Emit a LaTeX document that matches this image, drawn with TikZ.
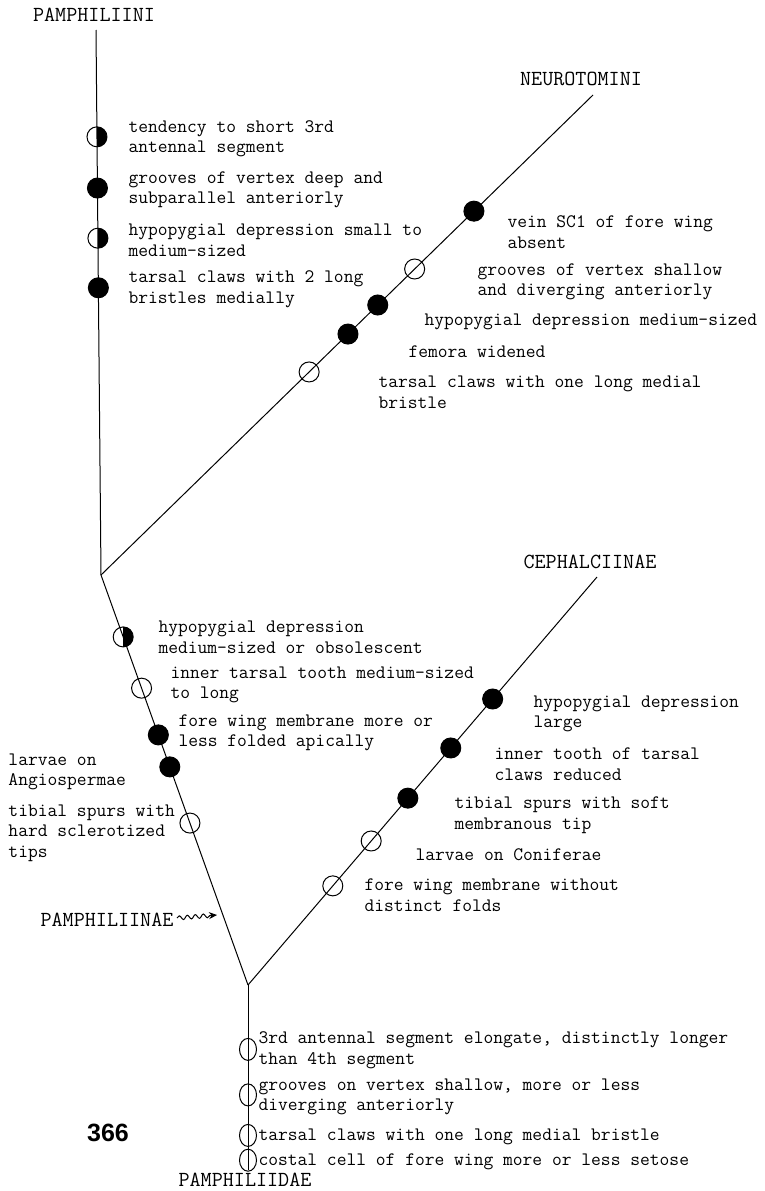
\documentclass[tikz,border=0pt]{standalone}
\usepackage{fontspec}
\setsansfont{Liberation Sans}
\usetikzlibrary{arrows.meta,decorations.pathmorphing,shapes.geometric}

\begin{document}
\begin{tikzpicture}[x=1pt,y=-1pt,line width=1pt,
	taxon/.style={font=\fontsize{21.5}{24}\selectfont\ttfamily,inner sep=0pt},
	trait/.style={font=\fontsize{19}{20.5}\selectfont\ttfamily,align=left,anchor=west,inner sep=0pt},
	openmark/.style={circle,draw,minimum size=20pt,inner sep=0pt},
	fullmark/.style={openmark,fill},
	halfmark/.style={openmark,path picture={\fill (path picture bounding box.north) rectangle (path picture bounding box.south east);}},
	ovalmark/.style={ellipse,draw,minimum width=17pt,minimum height=22pt,inner sep=0pt}]
	\useasboundingbox (0,0) rectangle (764,1191);

	% branch ends and forks
	\coordinate (pinitop) at (96,30);
	\coordinate (neurotop) at (593,95);
	\coordinate (cephtop) at (597,577);
	\coordinate (fork1) at (101,575);
	\coordinate (fork2) at (248,985);
	\coordinate (root) at (248,1170);

	\node[taxon] (pini) at (94,15) {PAMPHILIINI};
	\node[taxon] (neuro) at (581,79) {NEUROTOMINI};
	\node[taxon] (ceph) at (590,562) {CEPHALCIINAE};
	\node[taxon] (pinae) at (107,920) {PAMPHILIINAE};
	\node[taxon] (pidae) at (245,1180) {PAMPHILIIDAE};
	\node[font=\fontsize{25}{25}\selectfont\sffamily\bfseries] (pnum) at (108,1133) {366};

	% Pamphiliini
	\draw (pinitop) -- (fork1)
		node[halfmark,pos=.196] (a1) {}
		node[fullmark,pos=.290] (a2) {}
		node[halfmark,pos=.382] (a3) {}
		node[fullmark,pos=.473] (a4) {};
	\node[trait] (ta1) at (128,139) {tendency to short 3rd\\antennal segment};
	\node[trait] (ta2) at (128,190) {grooves of vertex deep and\\subparallel anteriorly};
	\node[trait] (ta3) at (128,240) {hypopygial depression small to\\medium-sized};
	\node[trait] (ta4) at (128,289) {tarsal claws with 2 long\\bristles medially};

	% Neurotomini
	\draw (fork1) -- (neurotop)
		node[openmark,pos=.423] (b1) {}
		node[fullmark,pos=.502] (b2) {}
		node[fullmark,pos=.5625] (b3) {}
		node[openmark,pos=.6375] (b4) {}
		node[fullmark,pos=.758] (b5) {};
	\node[trait] (tb5) at (507,232) {vein SC1 of fore wing\\absent};
	\node[trait] (tb4) at (477,282) {grooves of vertex shallow\\and diverging anteriorly};
	\node[trait] (tb3) at (424,322) {hypopygial depression medium-sized};
	\node[trait] (tb2) at (408,352) {femora widened};
	\node[trait] (tb1) at (378,392) {tarsal claws with one long medial\\bristle};

	% Pamphiliinae
	\draw (fork1) -- (fork2)
		node[halfmark,pos=.151] (c1) {}
		node[openmark,pos=.276] (c2) {}
		node[fullmark,pos=.390] (c3) {}
		node[fullmark,pos=.468] (c4) {}
		node[openmark,pos=.605] (c5) {};
	\node[trait] (tc1) at (158,637) {hypopygial depression\\medium-sized or obsolescent};
	\node[trait] (tc2) at (170,685) {inner tarsal tooth medium-sized\\to long};
	\node[trait] (tc3) at (178,733) {fore wing membrane more or\\less folded apically};
	\node[trait] (tc4) at (8,772) {larvae on\\Angiospermae};
	\node[trait] (tc5) at (8,833) {tibial spurs with\\hard sclerotized\\tips};
	\coordinate (pinaetip) at (217,915);
	\draw[-{Stealth[length=8pt,width=7pt]},decorate,
		decoration={snake,amplitude=2pt,segment length=8pt,post length=7pt}]
		(pinae.east) ++(3,-2) -- (pinaetip);

	% Cephalciinae
	\draw (fork2) -- (cephtop)
		node[openmark,pos=.243] (d1) {}
		node[openmark,pos=.353] (d2) {}
		node[fullmark,pos=.458] (d3) {}
		node[fullmark,pos=.581] (d4) {}
		node[fullmark,pos=.701] (d5) {};
	\node[trait] (td5) at (533,714) {hypopygial depression\\large};
	\node[trait] (td4) at (494,764) {inner tooth of tarsal\\claws reduced};
	\node[trait] (td3) at (454,815) {tibial spurs with soft\\membranous tip};
	\node[trait] (td2) at (415,855) {larvae on Coniferae};
	\node[trait] (td1) at (364,895) {fore wing membrane without\\distinct folds};

	% Pamphiliidae
	\draw (fork2) -- (root)
		node[ovalmark,pos=.348] (e1) {}
		node[ovalmark,pos=.594] (e2) {}
		node[ovalmark,pos=.813] (e3) {}
		node[ovalmark,pos=.947] (e4) {};
	\node[trait] (te1) at (258,1050) {3rd antennal segment elongate, distinctly longer\\than 4th segment};
	\node[trait] (te2) at (258,1097) {grooves on vertex shallow, more or less\\diverging anteriorly};
	\node[trait] (te3) at (258,1137) {tarsal claws with one long medial bristle};
	\node[trait] (te4) at (258,1162) {costal cell of fore wing more or less setose};
\end{tikzpicture}
\end{document}
